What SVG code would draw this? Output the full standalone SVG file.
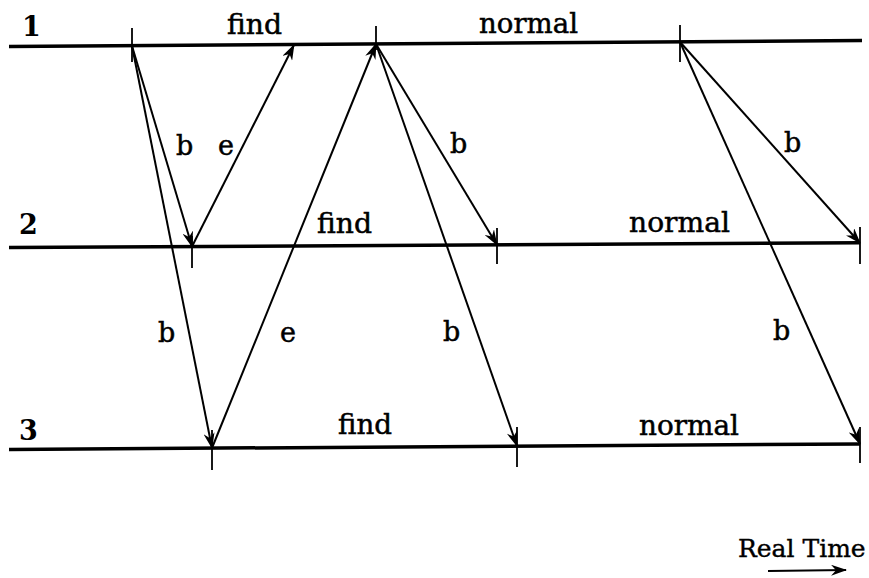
<svg xmlns="http://www.w3.org/2000/svg" width="869" height="578" viewBox="0 0 869 578">
<defs>
<marker id="ah" viewBox="0 0 16 11" refX="15" refY="5.5" markerWidth="16" markerHeight="11" markerUnits="userSpaceOnUse" orient="auto">
<path d="M0,0 L16,5.5 L0,11 L5,5.5 z" fill="#000"/>
</marker>
</defs>
<style>
.t{font-family:"DejaVu Serif","Liberation Serif",serif;font-size:27px;fill:#000;stroke:#000;stroke-width:0.5}
.rt{font-family:"DejaVu Serif","Liberation Serif",serif;font-size:25px;fill:#000;stroke:#000;stroke-width:0.4}
.d{font-family:"DejaVu Serif","Liberation Serif",serif;font-size:27px;font-weight:bold;fill:#000}
.ln{stroke:#000;stroke-width:3.5;fill:none}
.tk{stroke:#000;stroke-width:1.8;fill:none}
.ar{stroke:#000;stroke-width:2;fill:none;marker-end:url(#ah)}
</style>
<rect width="869" height="578" fill="#fff"/>
<g id="process1">
<line class="ln" x1="9" y1="46.5" x2="862" y2="40.5"/>
<line class="tk" x1="132" y1="28" x2="132" y2="62"/>
<line class="tk" x1="376" y1="26" x2="376" y2="50"/>
<line class="tk" x1="680" y1="25" x2="680" y2="62"/>
<text class="d" x="22" y="36">1</text>
<text class="t" x="227" y="34" textLength="55" lengthAdjust="spacingAndGlyphs">find</text>
<text class="t" x="479" y="33" textLength="99" lengthAdjust="spacingAndGlyphs">normal</text>
</g>
<g id="process2">
<line class="ln" x1="9" y1="247.5" x2="860" y2="242.8"/>
<line class="tk" x1="192" y1="236" x2="192" y2="268"/>
<line class="tk" x1="497" y1="228" x2="497" y2="264"/>
<line class="tk" x1="860" y1="227" x2="860" y2="264"/>
<text class="d" x="19" y="234">2</text>
<text class="t" x="317" y="233" textLength="55" lengthAdjust="spacingAndGlyphs">find</text>
<text class="t" x="629" y="232" textLength="101" lengthAdjust="spacingAndGlyphs">normal</text>
</g>
<g id="process3">
<line class="ln" x1="9" y1="449.5" x2="860" y2="443.9"/>
<line class="tk" x1="212" y1="430" x2="212" y2="470"/>
<line class="tk" x1="517" y1="427" x2="517" y2="467"/>
<line class="tk" x1="860" y1="427" x2="860" y2="463"/>
<text class="d" x="19" y="440">3</text>
<text class="t" x="338" y="434" textLength="54" lengthAdjust="spacingAndGlyphs">find</text>
<text class="t" x="639" y="435" textLength="100" lengthAdjust="spacingAndGlyphs">normal</text>
</g>
<g id="connectors">
<line class="ar" x1="132" y1="46" x2="192" y2="246.5"/>
<line class="ar" x1="192" y1="246.5" x2="294" y2="45"/>
<line class="ar" x1="132" y1="46" x2="212" y2="448"/>
<line class="ar" x1="212" y1="448" x2="376" y2="44"/>
<line class="ar" x1="376" y1="44" x2="497" y2="245"/>
<line class="ar" x1="376" y1="44" x2="517" y2="446"/>
<line class="ar" x1="680" y1="42" x2="860" y2="243"/>
<line class="ar" x1="680" y1="42" x2="860" y2="444"/>
</g>
<g id="labels">
<text class="t" x="176" y="155">b</text>
<text class="t" x="218" y="155">e</text>
<text class="t" x="450" y="153">b</text>
<text class="t" x="784" y="152">b</text>
<text class="t" x="158" y="342">b</text>
<text class="t" x="280" y="342">e</text>
<text class="t" x="443" y="341">b</text>
<text class="t" x="773" y="340">b</text>
</g>
<g id="realtime">
<text class="rt" x="738" y="557">Real Time</text>
<line class="ar" x1="768" y1="571" x2="846" y2="570"/>
</g>
</svg>
